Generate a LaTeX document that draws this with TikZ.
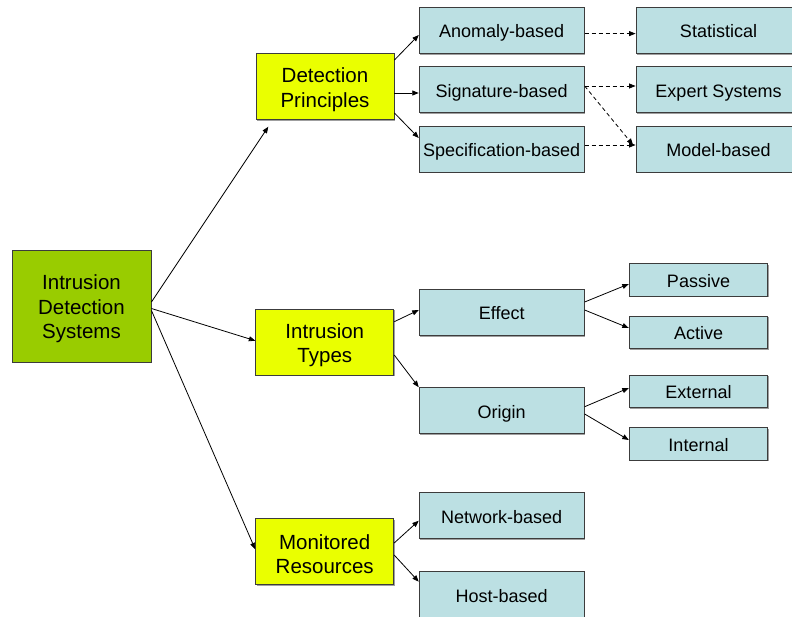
\documentclass[tikz,border=0pt]{standalone}
\usepackage{fontspec}
\setmainfont{Liberation Sans}
\usetikzlibrary{arrows.meta,shadows}

\definecolor{rootgreen}{RGB}{153,204,0}
\definecolor{catyellow}{RGB}{234,255,0}
\definecolor{leafcyan}{RGB}{188,224,227}
\definecolor{edgegray}{RGB}{60,60,60}

\tikzset{
  box/.style={draw=edgegray, line width=0.9pt, inner sep=0pt, anchor=center,
    align=center, drop shadow={shadow xshift=1.2pt, shadow yshift=-1.2pt,
    opacity=1, fill=gray!75}},
  rootbox/.style={box, fill=rootgreen, minimum width=139pt, minimum height=112pt},
  catbox/.style={box, fill=catyellow, minimum width=138pt, minimum height=66pt},
  bigtext/.style={inner sep=0pt, align=center, font=\fontsize{20.5}{24.6}\selectfont},
  leafbox/.style={box, fill=leafcyan, minimum width=165pt, minimum height=46pt,
    font=\fontsize{18}{22}\selectfont, text height=17pt, text depth=2.4pt},
  smallbox/.style={leafbox, minimum width=138.5pt, minimum height=32.5pt},
  link/.style={draw=black, line width=0.8pt, -{Triangle[length=6.5pt,width=5pt]}},
  dlink/.style={link, dashed, dash pattern=on 4pt off 3pt}
}

\begin{document}
\begin{tikzpicture}[x=1pt, y=-1pt]
  \useasboundingbox (0,0) rectangle (792,616);
  \fill[white] (0,0) rectangle (792,616);
  \begin{scope}
    \clip (0,0) rectangle (792,616);

    % root and category boxes, with their text set a little below centre
    \node[rootbox] (ids) at (81.5,306) {};
    \node[bigtext] (ids-text) at ([yshift=-3pt]ids.center) {Intrusion\\Detection\\Systems};
    \node[catbox] (dp) at (325,86.7) {};
    \node[bigtext] (dp-text) at ([yshift=-3pt]dp.center) {Detection\\Principles};
    \node[catbox] (it) at (324.8,342.2) {};
    \node[bigtext] (it-text) at ([yshift=-3pt]it.center) {Intrusion\\Types};
    \node[catbox] (mr) at (324.7,551.3) {};
    \node[bigtext] (mr-text) at ([yshift=-3pt]mr.center) {Monitored\\Resources};

    % detection principles
    \node[leafbox] (anomaly) at (501.7,30.3) {Anomaly-based};
    \node[leafbox] (sig) at (501.7,89.7) {Signature-based};
    \node[leafbox] (spec) at (501.7,149) {Specification-based};
    \node[leafbox] (stat) at (718.5,30.3) {Statistical};
    \node[leafbox] (expert) at (718.5,89.7) {Expert Systems};
    \node[leafbox] (model) at (718.5,149) {Model-based};

    % intrusion types
    \node[leafbox] (effect) at (501.7,312.3) {Effect};
    \node[leafbox] (origin) at (501.7,410.7) {Origin};
    \node[smallbox] (passive) at (698.5,279.7) {Passive};
    \node[smallbox] (active) at (698.5,332.2) {Active};
    \node[smallbox] (external) at (698.5,391.2) {External};
    \node[smallbox] (internal) at (698.5,443.7) {Internal};

    % monitored resources
    \node[leafbox] (network) at (501.7,515.7) {Network-based};
    \node[leafbox] (host) at (501.7,594.7) {Host-based};

    % free end of the arrow toward the detection principles
    \coordinate (dptip) at (268.3,126.7);

    % root connectors
    \draw[link] ([yshift=4pt]ids.east) -- (dptip);
    \draw[link] ([yshift=-2.5pt]ids.east) -- ([yshift=1.5pt]it.west);
    \draw[link] ([yshift=-4.5pt]ids.east) -- ([yshift=2pt]mr.west);

    % detection principles connectors
    \draw[link] ([yshift=26.7pt]dp.east) -- ([yshift=-4.7pt]anomaly.west);
    \draw[link] ([yshift=-6.3pt]dp.east) -- ([yshift=-3.3pt]sig.west);
    \draw[link] ([yshift=-26.3pt]dp.east) -- ([yshift=11pt]spec.west);

    \draw[dlink] ([yshift=-3.3pt]anomaly.east) -- ([yshift=-3.3pt]stat.west);
    \draw[dlink] ([yshift=3.7pt]sig.east) -- ([yshift=3.7pt]expert.west);
    \draw[dlink] ([yshift=3.7pt]sig.east) -- ([xshift=-2.5pt,yshift=4pt]model.west);
    \draw[dlink] ([yshift=4pt]spec.east) -- ([yshift=4pt]model.west);

    % intrusion types connectors
    \draw[link] ([yshift=20.5pt]it.east) -- ([yshift=2.3pt]effect.west);
    \draw[link] ([yshift=-12.8pt]it.east) -- (origin.north west);
    \draw[link] ([yshift=10.3pt]effect.east) -- ([yshift=-4.3pt]passive.west);
    \draw[link] ([yshift=2.3pt]effect.east) -- ([yshift=4.2pt]active.west);
    \draw[link] ([yshift=4pt]origin.east) -- ([yshift=3.2pt]external.west);
    \draw[link] ([yshift=-3.3pt]origin.east) -- ([yshift=3.7pt]internal.west);

    % monitored resources connectors
    \draw[link] ([yshift=8.3pt]mr.east) -- ([yshift=-5pt]network.west);
    \draw[link] ([yshift=-3.7pt]mr.east) -- ([yshift=13pt]host.west);
  \end{scope}
\end{tikzpicture}
\end{document}
